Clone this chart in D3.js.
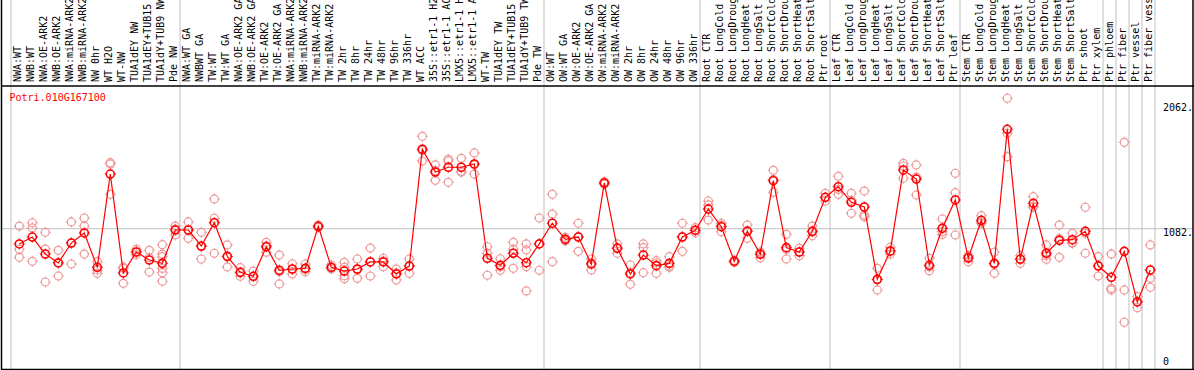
<!DOCTYPE html>
<html><head><meta charset="utf-8">
<script src="https://cdn.jsdelivr.net/npm/d3@7"></script>
<style>body{margin:0;background:#fff}svg{display:block}text{font-family:"DejaVu Sans Mono",monospace;font-size:10px}</style>
</head><body><svg id="c" width="1194" height="370"></svg>
<script>
const gene = "Potri.010G167100";
const categories = ["NWA:WT","NWB:WT","NWA:OE-ARK2","NWB:OE-ARK2","NWA:miRNA-ARK2","NWB:miRNA-ARK2","NW 0hr","WT H2O","WT-NW","TUA1dEY NW","TUA1dEY+TUB15","TUA1dY+TUB9 NW","Pde NW",
"NWA:WT GA","NWBWT GA","TW:WT","TW:WT GA","NWA:OE-ARK2 GA","NWB:OE-ARK2 GA","TW:OE-ARK2","TW:OE-ARK2 GA","NWA:miRNA-ARK2","NWB:miRNA-ARK2","TW:miRNA-ARK2","TW:miRNA-ARK2","TW 2hr","TW 8hr","TW 24hr","TW 48hr","TW 96hr","TW 336hr","WT ACC","35S::etr1-1 H2O","35S::etr1-1 ACC","LMX5::etr1-1 H2O","LMX5::etr1-1 ACC","WT-TW","TUA1dEY TW","TUA1dEY+TUB15","TUA1dY+TUB9 TW","Pde TW",
"OW:WT","OW:WT GA","OW:OE-ARK2","OW:OE-ARK2 GA","OW:miRNA-ARK2","OW:miRNA-ARK2","OW 2hr","OW 8hr","OW 24hr","OW 48hr","OW 96hr","OW 336hr",
"Root CTR","Root LongCold","Root LongDrought","Root LongHeat","Root LongSalt","Root ShortCold","Root ShortDrought","Root ShortHeat","Root ShortSalt","Ptr root",
"Leaf CTR","Leaf LongCold","Leaf LongDrought","Leaf LongHeat","Leaf LongSalt","Leaf ShortCold","Leaf ShortDrought","Leaf ShortHeat","Leaf ShortSalt","Ptr leaf",
"Stem CTR","Stem LongCold","Stem LongDrought","Stem LongHeat","Stem LongSalt","Stem ShortCold","Stem ShortDrought","Stem ShortHeat","Stem ShortSalt","Ptr shoot","Ptr xylem",
"Ptr phloem","Ptr fiber","Ptr vessel","Ptr fiber vessel"];
// index of last category in each separated group
const groupEnds = [12,40,52,62,72,84,85,86,87,88];
const means = [963,1017,884,814,970,1049,780,1510,736,900,837,811,1072,
1072,947,1129,866,741,710,941,757,767,772,1101,780,751,767,822,822,728,790,1704,1526,1563,1563,1589,851,796,890,816,963,
1125,999,1017,806,1440,929,728,876,793,811,1017,1070,
1236,1098,827,1062,882,1458,934,900,1062,1328,
1411,1289,1252,686,908,1542,1471,796,1085,1307,
853,1148,811,1860,843,1281,890,991,996,1062,790,
702,905,509,759];
const reps = [[1103,921,858],[1129,1088,827],[1054,923,665],[913,817,712],[1135,969,806],[1166,1103,884],[824,759,733],[1599,1589,1351],[781,772,655],[921,900,880],[913,855,743],[957,884,863,772,738,671],[1103,1080,1033],
[1135,1074,1007],[1054,942,845],[1315,1164,890],[955,860,783],[777,736,710],[751,708,671],[976,949,898],[876,745,650],[808,765,728],[806,764,746],[1110,1101,1092],[798,775,767],[819,780,714,691],[845,762,694],[931,823,712],[851,830,785],[767,736,681],[845,792,733],[1805,1695,1612],[1581,1536,1461],[1625,1612,1445],[1633,1532,1524],[1675,1582,1510],[941,890,718],[847,784,757],[976,922,772],[963,916,785,595],[1166,966,757],
[1351,1197,824],[1015,995,987],[1125,1021,905],[845,814,759],[1450,1440,1430],[963,934,890],[798,739,647],[963,934,738],[832,814,733],[863,790,780],[1125,1021,905],[1090,1070,1050],
[1299,1268,1150],[1125,1110,1059],[835,827,819],[1111,1068,1007],[900,891,855],[1539,1468,1367],[1038,919,845],[929,900,871],[1103,1056,1027],[1359,1326,1299],
[1492,1390,1351],[1359,1305,1203],[1377,1189,1176],[772,683,603],[937,903,884],[1594,1573,1477],[1581,1486,1346],[851,783,754],[1158,1059,1038],[1516,1364,1033],
[872,863,824],[1184,1135,1125],[898,802,733],[2103,1829,1646],[871,847,811],[1333,1260,1250],[955,872,843],[1111,1004,858],[1046,974,968],[1250,1046,890],[863,795,712],
[884,616,603],[1758,603,350],[550,513,464],[955,694,624]];
const yTicks = [2062,1082,0];
const yTickLabels = ["2062.","1082.","0"];

const svg = d3.select("#c");
const W = 1194, H = 370;
const x = d3.scaleLinear().domain([0, categories.length-1]).range([19.3, 19.3 + 13*(categories.length-1)]);
const y = d3.scaleLinear().domain([0, 2062]).range([367, 103.5]);
const plotTop = 86, plotBottom = 369.5;

// vertical group separators
const seps = [-1].concat(groupEnds.slice(0,-1)).concat([87]);
const sepSet = Array.from(new Set([-1,12,40,52,62,72,83,84,85,86,87]));
svg.append("g").selectAll("line").data(sepSet).join("line")
  .attr("x1", d => x(d) + 4.7).attr("x2", d => x(d) + 4.7)
  .attr("y1", 0).attr("y2", plotBottom)
  .attr("stroke", "#c0c0c0").attr("stroke-width", 1);

// horizontal gridline at middle tick
svg.append("line").attr("x1", 2).attr("x2", 1193).attr("y1", y(1082)).attr("y2", y(1082))
  .attr("stroke", "#c0c0c0").attr("stroke-width", 1);

// frame
svg.append("line").attr("x1",1.5).attr("x2",1.5).attr("y1",0).attr("y2",plotBottom).attr("stroke","#000").attr("stroke-width",1.5);
svg.append("line").attr("x1",1193).attr("x2",1193).attr("y1",0).attr("y2",plotBottom).attr("stroke","#000").attr("stroke-width",1.5);
svg.append("line").attr("x1",1).attr("x2",1194).attr("y1",plotTop).attr("y2",plotTop).attr("stroke","#000").attr("stroke-width",1.5);
svg.append("line").attr("x1",1).attr("x2",1194).attr("y1",plotBottom).attr("y2",plotBottom).attr("stroke","#000").attr("stroke-width",1.5);

// category labels
svg.append("g").selectAll("text").data(categories).join("text")
  .attr("transform", (d,i) => `translate(${x(i)+1.8},82) rotate(-90)`)
  .attr("fill", "#000").text(d => d);

// y tick labels
svg.append("g").selectAll("text").data(yTicks).join("text")
  .attr("x", 1163).attr("y", (d,i) => d === 0 ? y(d) - 2 : y(d) + 7.5)
  .attr("fill", "#000").text((d,i) => yTickLabels[i]);

// gene label
svg.append("text").attr("x", 9.5).attr("y", 100.5).attr("fill", "#ff0000").text(gene);

function marker(g, cx, cy, color, sw) {
  g.append("circle").attr("cx", cx).attr("cy", cy).attr("r", 4).attr("fill", "none").attr("stroke", color).attr("stroke-width", sw);
  const t = [[0,-1],[0,1],[-1,0],[1,0]];
  t.forEach(([dx,dy]) => g.append("line").attr("x1", cx+dx*3.5).attr("y1", cy+dy*3.5).attr("x2", cx+dx*5.5).attr("y2", cy+dy*5.5).attr("stroke", color).attr("stroke-width", 1));
}

// replicates
const gr = svg.append("g");
reps.forEach((arr, i) => arr.forEach(v => marker(gr, x(i), y(v), "#ee9999", 1.2)));

// mean line
svg.append("path").datum(means)
  .attr("d", d3.line().x((d,i) => x(i)).y(d => y(d)))
  .attr("fill", "none").attr("stroke", "#ff0000").attr("stroke-width", 1.2);

const gm = svg.append("g");
means.forEach((v, i) => marker(gm, x(i), y(v), "#ff0000", 1.6));
</script></body></html>
